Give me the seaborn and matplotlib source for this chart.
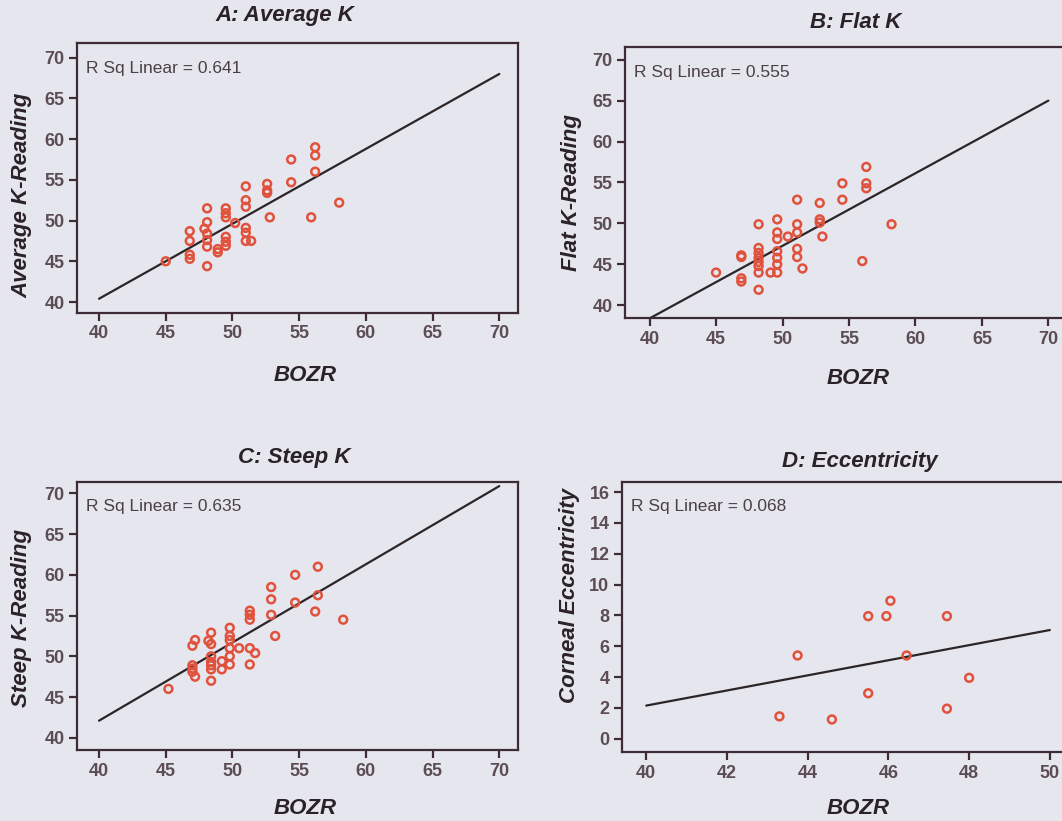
import numpy as np
import pandas as pd
import matplotlib
matplotlib.use("Agg")
import matplotlib.pyplot as plt
import seaborn as sns

# ---- data ----
# A: Average K
a_bozr = [45.0, 46.8, 46.8, 46.8, 46.8, 48.1, 48.1, 47.9, 48.1, 48.1, 48.1, 48.1,
          48.9, 48.9, 49.5, 49.5, 49.5, 49.5, 49.5, 49.5, 50.2, 51.0, 51.0, 51.0,
          51.0, 51.0, 51.0, 51.4, 52.6, 52.6, 52.6, 52.8, 54.4, 54.4, 56.2, 56.2,
          56.2, 55.9, 58.0]
a_k = [45.0, 48.7, 47.5, 45.8, 45.3, 51.5, 49.8, 49.0, 48.4, 47.6, 46.8, 44.4,
       46.5, 46.1, 51.5, 50.9, 50.4, 48.0, 47.4, 46.9, 49.7, 54.2, 52.5, 51.7,
       49.1, 48.5, 47.5, 47.5, 54.5, 53.7, 53.4, 50.4, 57.5, 54.7, 59.0, 58.0,
       56.0, 50.4, 52.2]
a_fit = [40.4, 68.0]

# B: Flat K
b_bozr = [45.0, 46.9, 46.9, 46.9, 46.9, 48.2, 48.2, 48.2, 48.2, 48.2, 48.2, 48.2,
          48.2, 49.1, 49.6, 49.6, 49.6, 49.6, 49.6, 49.6, 49.6, 50.4, 51.1, 51.1,
          51.1, 51.1, 51.1, 51.5, 52.8, 52.8, 52.8, 53.0, 54.5, 54.5, 56.3, 56.3,
          56.3, 56.0, 58.2]
b_k = [44.0, 46.1, 45.9, 43.3, 42.9, 49.9, 47.0, 46.4, 45.8, 45.3, 44.8, 44.0,
       41.9, 44.0, 50.5, 48.9, 48.1, 46.6, 45.8, 45.0, 44.0, 48.4, 52.9, 49.9,
       48.9, 46.9, 45.9, 44.5, 52.5, 50.5, 50.1, 48.4, 54.9, 52.9, 56.9, 54.9,
       54.3, 45.4, 49.9]
b_fit = [38.4, 65.0]

# C: Steep K
c_bozr = [45.2, 47.2, 47.0, 47.0, 47.0, 47.0, 47.2, 48.4, 48.2, 48.4, 48.4, 48.4,
          48.4, 48.4, 48.4, 49.2, 49.2, 49.8, 49.8, 49.8, 49.8, 49.8, 49.8, 50.5,
          51.3, 51.3, 51.3, 51.3, 51.7, 51.3, 52.9, 52.9, 52.9, 53.2, 54.7, 54.7,
          56.4, 56.4, 56.2, 58.3]
c_k = [46.0, 52.0, 51.3, 48.9, 48.5, 48.1, 47.5, 52.9, 51.9, 51.5, 50.0, 49.3,
       48.9, 48.4, 47.0, 49.4, 48.4, 53.5, 52.5, 52.0, 51.0, 50.0, 49.0, 51.0,
       55.6, 55.1, 54.5, 51.0, 50.4, 49.0, 58.5, 57.0, 55.1, 52.5, 60.0, 56.6,
       61.0, 57.5, 55.5, 54.5]
c_fit = [42.1, 70.9]

# D: Eccentricity
d_bozr = [43.3, 43.75, 44.6, 45.5, 45.5, 45.95, 46.05, 46.45, 47.45, 47.45, 48.0]
d_ecc = [1.45, 5.4, 1.25, 7.95, 2.95, 7.95, 8.95, 5.4, 7.95, 1.95, 3.95]
d_fit = [2.15, 7.05]

fit_x_k = [40, 70]
fit_x_d = [40, 50]

panels = [
    ("A: Average K", "Average K-Reading", a_bozr, a_k, fit_x_k, a_fit, "R Sq Linear = 0.641"),
    ("B: Flat K", "Flat K-Reading", b_bozr, b_k, fit_x_k, b_fit, "R Sq Linear = 0.555"),
    ("C: Steep K", "Steep K-Reading", c_bozr, c_k, fit_x_k, c_fit, "R Sq Linear = 0.635"),
    ("D: Eccentricity", "Corneal Eccentricity", d_bozr, d_ecc, fit_x_d, d_fit, "R Sq Linear = 0.068"),
]

# ---- style ----
bg = "#e6e6ee"
frame = "#3d2c35"
tick_col = "#5c4d55"
dot_col = "#e0523c"

sns.set_theme(style="ticks")
plt.rcParams["font.family"] = ["Liberation Sans", "DejaVu Sans"]

fig = plt.figure(figsize=(10.62, 8.21), dpi=100, facecolor=bg)

W, H = 1062, 821
# axes boxes in pixels: left, top, right, bottom
boxes = [(77, 43, 518, 313), (625, 47, 1067, 318), (77, 482, 518, 750), (622, 482, 1066, 752)]
title_pos = [(285, 15), (856, 22), (294, 457), (860, 461)]
xlabel_pos = [(305, 375), (858, 378), (305, 808), (858, 808)]
ylabel_x = [22, 572, 22, 570]
ylabel_y = [195, 192, 618, 595]
xlims = [(38.35, 71.4), (38.15, 71.4), (38.35, 71.4), (39.4, 50.4)]
ylims = [(38.65, 71.8), (38.45, 71.55), (38.5, 71.4), (-0.86, 16.65)]
xticks = [np.arange(40, 71, 5)] * 3 + [np.arange(40, 51, 2)]
yticks = [np.arange(40, 71, 5)] * 3 + [np.arange(0, 17, 2)]

for i, (title, ylab, xs, ys, fx, fy, rsq) in enumerate(panels):
    l, t, r, b = boxes[i]
    ax = fig.add_axes([l / W, 1 - b / H, (r - l) / W, (b - t) / H])
    ax.set_facecolor(bg)

    df = pd.DataFrame({"BOZR": xs, "val": ys})
    fit = pd.DataFrame({"BOZR": fx, "val": fy})
    sns.lineplot(data=fit, x="BOZR", y="val", ax=ax, color="#2b2527", lw=1.6)
    sns.scatterplot(data=df, x="BOZR", y="val", ax=ax, marker="o", s=32,
                    facecolor="none", edgecolor=dot_col, linewidth=1.8, zorder=3)

    ax.set_xlim(*xlims[i])
    ax.set_ylim(*ylims[i])
    ax.set_xticks(xticks[i])
    ax.set_yticks(yticks[i])
    ax.set_xlabel("")
    ax.set_ylabel("")
    for s in ax.spines.values():
        s.set_color(frame)
        s.set_linewidth(1.6)
        s.set_visible(True)
    ax.tick_params(direction="out", length=6, width=1.6, color=frame,
                   labelsize=13, labelcolor=tick_col, pad=3)
    for lab in ax.get_xticklabels() + ax.get_yticklabels():
        lab.set_fontweight("bold")

    ax.text(9 / (r - l), 1 - 25 / (b - t), rsq, transform=ax.transAxes,
            fontsize=12.5, color="#4a4045", va="center", ha="left")

    tx, ty = title_pos[i]
    fig.text(tx / W, 1 - ty / H, title, ha="center", va="center", fontsize=16,
             fontweight="bold", fontstyle="italic", color="#2a2228")
    lx, ly = xlabel_pos[i]
    fig.text(lx / W, 1 - ly / H, "BOZR", ha="center", va="center", fontsize=16,
             fontweight="bold", fontstyle="italic", color="#2a2228")
    fig.text(ylabel_x[i] / W, 1 - ylabel_y[i] / H, ylab, ha="center", va="center",
             rotation=90, fontsize=16, fontweight="bold", fontstyle="italic",
             color="#2a2228")

fig.savefig("out.png", dpi=100, facecolor=bg)
